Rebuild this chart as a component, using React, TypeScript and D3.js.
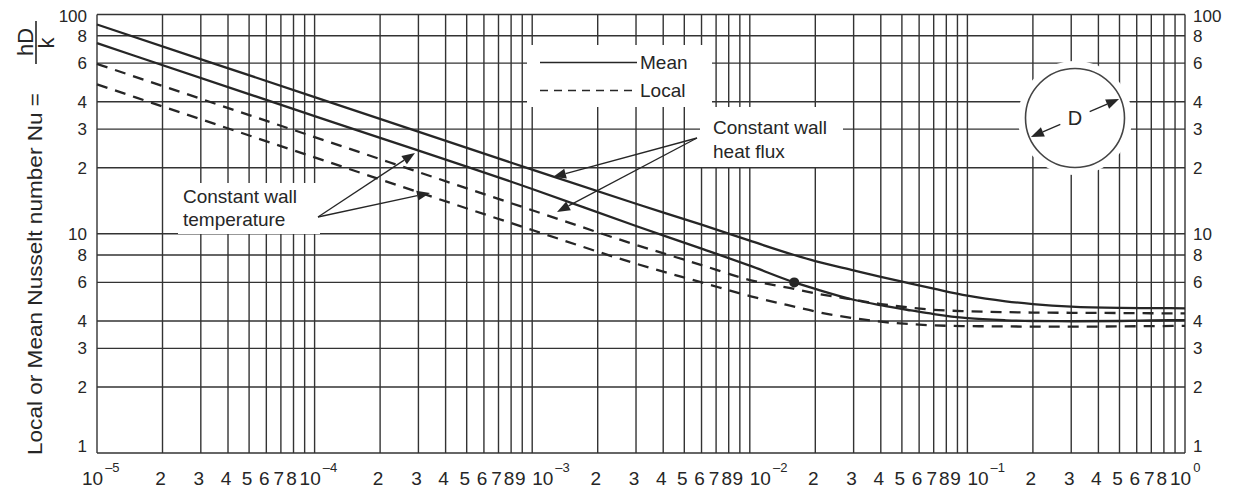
import React from 'react';
import * as d3 from 'd3';

// abscissa: x / (D Re Pr), ordinate: Nusselt number
const xValues = [
  1e-5, 1e-4, 1e-3, 3e-3, 6e-3, 1e-2, 1.6e-2, 2e-2, 3e-2, 4e-2, 5.5e-2, 7e-2, 0.1, 0.15, 0.2, 0.3, 0.5, 0.7, 1,
];
const meanHeatFlux = [
  90, 42, 19.6, 13.7, 11.0, 9.3, 8.0, 7.5, 6.8, 6.35, 5.92, 5.62, 5.22, 4.92, 4.78, 4.65, 4.59, 4.58, 4.57,
];
const meanWallTemp = [
  74, 34.4, 16.0, 10.85, 8.55, 7.15, 6.0, 5.6, 5.0, 4.72, 4.47, 4.3, 4.12, 4.03, 4.0, 3.99, 4.0, 4.02, 4.04,
];
const localHeatFlux = [
  59.5, 27.6, 12.8, 8.9, 7.2, 6.15, 5.6, 5.35, 5.0, 4.78, 4.6, 4.5, 4.43, 4.39, 4.37, 4.36, 4.35, 4.34, 4.33,
];
const localWallTemp = [
  48, 22.3, 10.4, 7.3, 6.0, 5.2, 4.65, 4.42, 4.12, 3.97, 3.87, 3.82, 3.79, 3.78, 3.77, 3.77, 3.78, 3.79, 3.8,
];

// marked point on the mean constant-wall-temperature curve
const markX = 1.6e-2;
const markNu = 6;

const yGridValues = [1, 2, 3, 4, 6, 8, 10, 20, 30, 40, 60, 80, 100];
const yTickLabels = ['1', '2', '3', '4', '6', '8', '10', '2', '3', '4', '6', '8', '100'];
const xDecades = [-5, -4, -3, -2, -1, 0];
const xDigitLabels = [
  [2, 3, 4, 5, 6, 7, 8],
  [2, 3, 4, 5, 6, 7, 8, 9],
  [2, 3, 4, 5, 6, 7, 8, 9],
  [2, 3, 4, 5, 6, 7, 8, 9],
  [2, 3, 4, 5, 6, 7, 8],
];

const FONT = '"Liberation Sans", Arial, Helvetica, sans-serif';
const INK = '#262626';
const GRID = '#333';

type Pt = [number, number];

function Arrow({ from, to, head = 13, half = 5 }: { from: Pt; to: Pt; head?: number; half?: number }) {
  const [x0, y0] = from;
  const [x1, y1] = to;
  const len = Math.hypot(x1 - x0, y1 - y0);
  const ux = (x1 - x0) / len;
  const uy = (y1 - y0) / len;
  const bx = x1 - ux * head;
  const by = y1 - uy * head;
  const px = -uy * half;
  const py = ux * half;
  return (
    <g>
      <line x1={x0} y1={y0} x2={bx} y2={by} stroke={INK} strokeWidth={1.3} />
      <path d={`M${x1},${y1}L${bx + px},${by + py}L${bx - px},${by - py}Z`} fill={INK} />
    </g>
  );
}

export default function App() {
  const x = d3.scaleLog().domain([1e-5, 1]).range([97, 1185]);
  const y = d3.scaleLog().domain([1, 100]).range([453, 14.5]);

  const line = d3
    .line<Pt>()
    .x(d => x(d[0]))
    .y(d => y(d[1]))
    .curve(d3.curveMonotoneX);

  const series = [
    { key: 'meanHF', values: meanHeatFlux, dash: undefined },
    { key: 'meanWT', values: meanWallTemp, dash: undefined },
    { key: 'localHF', values: localHeatFlux, dash: '11 8' },
    { key: 'localWT', values: localWallTemp, dash: '11 8' },
  ];

  const xGrid = xDecades
    .slice(0, -1)
    .flatMap(e => d3.range(1, 10).map(k => k * Math.pow(10, e)))
    .concat([1]);

  const labelY = (v: number) => Math.min(446, Math.max(16.5, y(v)));

  // decades preceded by a "9" label start right at the grid line
  const hasNine = (di: number) => di > 0 && xDigitLabels[di - 1].includes(9);

  // little pipe figure
  const cx = 1075, cy = 118, cr = 49.5;
  const ang = Math.atan2(-38, 88);
  const ux = Math.cos(ang), uy = Math.sin(ang);

  return (
    <svg
      width={1234}
      height={489}
      style={{ position: 'absolute', left: 0, top: 0, background: '#fff' }}
      fontFamily={FONT}
    >
      <rect width={1234} height={489} fill="#fff" />

      {/* grid */}
      <g stroke={GRID} strokeWidth={1.4}>
        {xGrid.map((v, i) => (
          <line key={'gx' + i} x1={x(v)} x2={x(v)} y1={y(1)} y2={y(100)} />
        ))}
        {yGridValues.map((v, i) => (
          <line key={'gy' + i} x1={x(1e-5)} x2={x(1)} y1={y(v)} y2={y(v)} />
        ))}
      </g>

      {/* white panels behind annotations */}
      <g fill="#fff">
        <rect x={527} y={45} width={185} height={62} />
        <rect x={700} y={107} width={143} height={60} />
        <rect x={178} y={183} width={142} height={51} />
        <circle cx={cx} cy={cy} r={57} />
      </g>

      {/* curves */}
      <g fill="none" stroke={INK} strokeWidth={2.3}>
        {series.map(s => (
          <path
            key={s.key}
            d={line(xValues.map((xv, i) => [xv, s.values[i]] as Pt)) || ''}
            strokeDasharray={s.dash}
          />
        ))}
      </g>
      <circle cx={x(markX)} cy={y(markNu)} r={5} fill={INK} />

      {/* y tick labels, both sides */}
      <g fontSize={17} fill={INK}>
        {yGridValues.map((v, i) => (
          <text key={'yl' + i} x={87} y={labelY(v)} dy="0.35em" textAnchor="end">
            {yTickLabels[i]}
          </text>
        ))}
        {yGridValues.map((v, i) => (
          <text key={'yr' + i} x={1193} y={labelY(v)} dy="0.35em" textAnchor="start">
            {yTickLabels[i]}
          </text>
        ))}
      </g>

      {/* x tick labels */}
      <g fontSize={19} fill={INK}>
        {xDigitLabels.map((digits, di) =>
          digits.map(k => (
            <text
              key={'xd' + di + k}
              x={x(k * Math.pow(10, xDecades[di])) - 2}
              y={485}
              textAnchor="middle"
            >
              {k}
            </text>
          ))
        )}
        {xDecades.map((e, di) => (
          <text key={'xe' + e} x={x(Math.pow(10, e)) - (hasNine(di) ? 0 : 15)} y={485}>
            10
            <tspan dx={2} dy={-13} fontSize={13}>
              {e === 0 ? '0' : '\u2013' + Math.abs(e)}
            </tspan>
          </text>
        ))}
      </g>

      {/* y axis title */}
      <g fill={INK}>
        <text
          transform="translate(42,93) rotate(-90)"
          textAnchor="end"
          fontSize={21}
          textLength={362}
          lengthAdjust="spacingAndGlyphs"
        >
          Local or Mean Nusselt number Nu =
        </text>
        <text transform="translate(33,42) rotate(-90)" textAnchor="middle" fontSize={22}>
          hD
        </text>
        <line x1={36} x2={36} y1={21} y2={64} stroke={INK} strokeWidth={1.6} />
        <text transform="translate(54,43) rotate(-90)" textAnchor="middle" fontSize={22}>
          k
        </text>
      </g>

      {/* legend */}
      <g stroke={INK} strokeWidth={1.4}>
        <line x1={540} x2={637} y1={62.5} y2={62.5} />
        <line x1={540} x2={637} y1={90.5} y2={90.5} strokeDasharray="8 6" />
      </g>
      <g fontSize={19} fill={INK}>
        <text x={640} y={69}>Mean</text>
        <text x={640} y={97}>Local</text>
      </g>

      {/* annotations */}
      <g fontSize={19} fill={INK}>
        <text x={713} y={134}>Constant wall</text>
        <text x={713} y={158}>heat flux</text>
        <text x={183} y={203}>Constant wall</text>
        <text x={183} y={226}>temperature</text>
      </g>
      <Arrow from={[697, 138]} to={[553, 177]} />
      <Arrow from={[697, 138]} to={[557, 212]} />
      <Arrow from={[318, 217]} to={[415, 153]} />
      <Arrow from={[318, 217]} to={[430, 193]} />

      {/* pipe cross-section */}
      <circle cx={cx} cy={cy} r={cr} fill="none" stroke="#444" strokeWidth={1.6} />
      <Arrow from={[cx + ux * 16, cy + uy * 16]} to={[cx + ux * 48, cy + uy * 48]} />
      <Arrow from={[cx - ux * 16, cy - uy * 16]} to={[cx - ux * 48, cy - uy * 48]} />
      <text x={cx} y={cy} dy="0.36em" textAnchor="middle" fontSize={20} fill={INK}>
        D
      </text>
    </svg>
  );
}
